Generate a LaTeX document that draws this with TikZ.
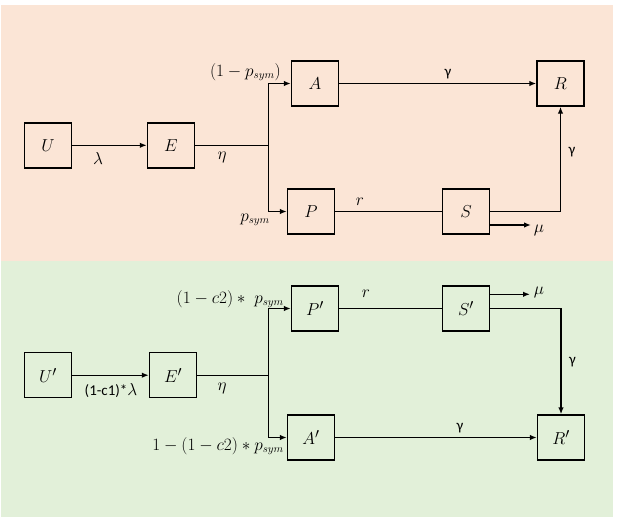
\documentclass[tikz,border=0pt]{standalone}
\usepackage{fontspec}
\usepackage{amsmath}
\newfontfamily\carlitof{Carlito}
\usetikzlibrary{arrows.meta}
\definecolor{peachbg}{HTML}{FBE5D6}
\definecolor{greenbg}{HTML}{E2F0D9}
\begin{document}
\begin{tikzpicture}[x=1pt,y=-1pt,
  box/.style={draw, line width=1.4pt, minimum width=47pt, minimum height=45pt, inner sep=0pt, font=\fontsize{19}{21}\selectfont},
  flow/.style={line width=1.4pt, -{Latex[length=7pt,width=5.5pt]}},
  link/.style={line width=1.4pt},
  lab/.style={font=\fontsize{16}{18}\selectfont, inner sep=0pt},
  glab/.style={font=\carlitof\fontsize{15}{17}\selectfont, inner sep=0pt}]
\useasboundingbox (0,0) rectangle (618,522);
\fill[peachbg] (1,5) rectangle (613,261);
\fill[greenbg] (1,261) rectangle (613,517);
% top panel
\node[box] (U) at (48,145.3) {$U$};
\node[box] (E) at (171,145.3) {$E$};
\node[box] (A) at (315,83.5) {$A$};
\node[box] (R) at (560.5,83.5) {$R$};
\node[box] (P) at (311,211.5) {$P$};
\node[box] (S) at (466,211.5) {$S$};
\coordinate (s1) at (268.6,145.3);
\coordinate (mu1) at (531,225);
\draw[flow] (U) -- (E);
\draw[link] (E) -- (s1);
\draw[flow] (s1) |- (A);
\draw[flow] (s1) |- (P);
\draw[flow] (A) -- (R);
\draw[link] (P) -- (S);
\draw[flow] (S.east) -| (R.south);
\draw[flow] (S.east |- mu1) -- (mu1);
\node[lab] (l1) at (98,158) {$\lambda$};
\node[lab] (l2) at (222,157) {$\eta$};
\node[lab,anchor=east] (l3) at (281,72) {$(1-p_{sym})$};
\node[lab,anchor=east] (l4) at (270,220) {$p_{sym}$};
\node[glab] (l5) at (448,74) {γ};
\node[glab] (l6) at (572,152) {γ};
\node[lab] (l7) at (360,202) {$r$};
\node[lab] (l8) at (539,230) {$\mu$};
% bottom panel
\node[box] (U2) at (48,375.2) {$U'$};
\node[box] (E2) at (173,375.2) {$E'$};
\node[box] (P2) at (315,308.5) {$P'$};
\node[box] (S2) at (466,308.5) {$S'$};
\node[box] (A2) at (311,437.5) {$A'$};
\node[box] (R2) at (561,437.5) {$R'$};
\coordinate (s2) at (268.6,375.2);
\coordinate (mu2) at (530,294.3);
\draw[flow] (U2) -- (E2);
\draw[link] (E2) -- (s2);
\draw[flow] (s2) |- (P2);
\draw[flow] (s2) |- (A2);
\draw[link] (P2) -- (S2);
\draw[flow] (S2.east) -| (R2.north);
\draw[flow] (S2.east |- mu2) -- (mu2);
\draw[flow] (A2) -- (R2);
\node[lab] (m1) at (111,391) {{\carlitof\fontsize{15}{17}\selectfont (1-c1)*}$\lambda$};
\node[lab] (m2) at (222,388) {$\eta$};
\node[lab,anchor=east] (m3) at (284,299) {$(1-c2)\ast\ p_{sym}$};
\node[lab,anchor=east] (m4) at (284,446) {$1-(1-c2)\ast p_{sym}$};
\node[glab] (m5) at (460,428) {γ};
\node[glab] (m6) at (572.5,362) {γ};
\node[lab] (m7) at (366,294) {$r$};
\node[lab] (m8) at (539,292) {$\mu$};
\end{tikzpicture}
\end{document}
